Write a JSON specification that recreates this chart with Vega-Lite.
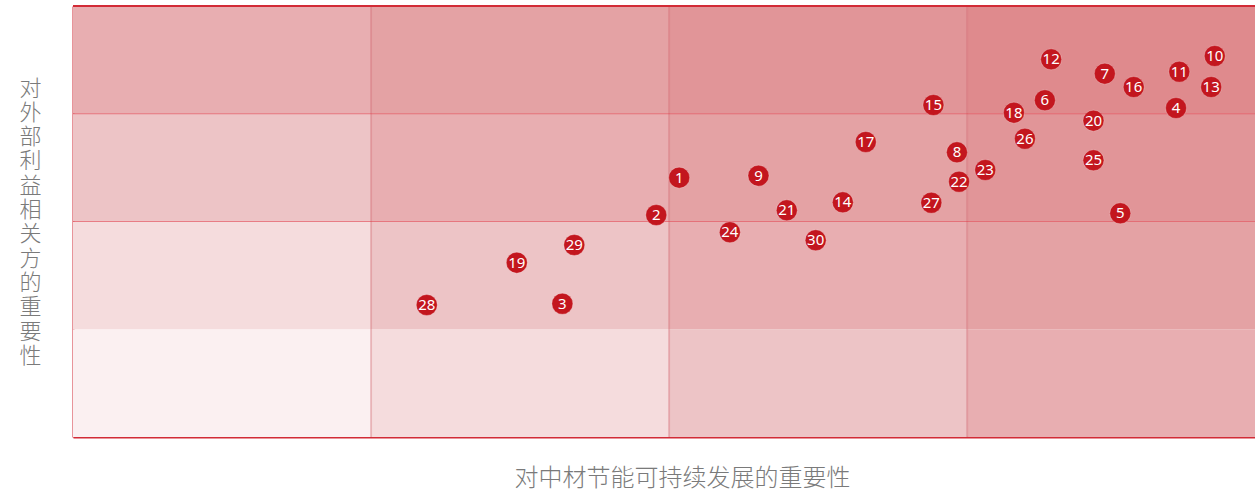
{
  "$schema": "https://vega.github.io/schema/vega-lite/v6.json",
  "autosize": {"type": "none"},
  "padding": {"left": 73, "top": 6, "right": 0, "bottom": 57},
  "width": 1182,
  "height": 431,
  "background": "white",
  "config": {
    "view": {"stroke": null},
    "axis": {
      "domainColor": "#d22b36",
      "domainWidth": 2,
      "ticks": false,
      "labels": false,
      "grid": false,
      "titleFont": "Noto Sans CJK SC",
      "titleFontWeight": 300,
      "titleFontSize": 24,
      "titleColor": "#7a7a7a"
    }
  },
  "datasets": {
    "cells": [
      {"c0": 0, "c1": 1, "r0": 0, "r1": 1, "lv": 0},
      {"c0": 1, "c1": 2, "r0": 0, "r1": 1, "lv": 1},
      {"c0": 2, "c1": 3, "r0": 0, "r1": 1, "lv": 2},
      {"c0": 3, "c1": 4, "r0": 0, "r1": 1, "lv": 3},
      {"c0": 0, "c1": 1, "r0": 1, "r1": 2, "lv": 1},
      {"c0": 1, "c1": 2, "r0": 1, "r1": 2, "lv": 2},
      {"c0": 2, "c1": 3, "r0": 1, "r1": 2, "lv": 3},
      {"c0": 3, "c1": 4, "r0": 1, "r1": 2, "lv": 4},
      {"c0": 0, "c1": 1, "r0": 2, "r1": 3, "lv": 2},
      {"c0": 1, "c1": 2, "r0": 2, "r1": 3, "lv": 3},
      {"c0": 2, "c1": 3, "r0": 2, "r1": 3, "lv": 4},
      {"c0": 3, "c1": 4, "r0": 2, "r1": 3, "lv": 5},
      {"c0": 0, "c1": 1, "r0": 3, "r1": 4, "lv": 3},
      {"c0": 1, "c1": 2, "r0": 3, "r1": 4, "lv": 4},
      {"c0": 2, "c1": 3, "r0": 3, "r1": 4, "lv": 5},
      {"c0": 3, "c1": 4, "r0": 3, "r1": 4, "lv": 6}
    ],
    "vlines": [{"v": 1}, {"v": 2}, {"v": 3}],
    "hlines": [{"v": 2}, {"v": 3}],
    "border": [{"v": 4}],
    "points": [
      {"id": "1", "x": 2.034, "y": 2.407},
      {"id": "2", "x": 1.957, "y": 2.060},
      {"id": "3", "x": 1.642, "y": 1.237},
      {"id": "4", "x": 3.701, "y": 3.053},
      {"id": "5", "x": 3.514, "y": 2.076},
      {"id": "6", "x": 3.261, "y": 3.125},
      {"id": "7", "x": 3.462, "y": 3.372},
      {"id": "8", "x": 2.966, "y": 2.642},
      {"id": "9", "x": 2.300, "y": 2.425},
      {"id": "10", "x": 3.831, "y": 3.536},
      {"id": "11", "x": 3.712, "y": 3.390},
      {"id": "12", "x": 3.282, "y": 3.505},
      {"id": "13", "x": 3.819, "y": 3.248},
      {"id": "14", "x": 2.583, "y": 2.178},
      {"id": "15", "x": 2.887, "y": 3.081},
      {"id": "16", "x": 3.559, "y": 3.248},
      {"id": "17", "x": 2.660, "y": 2.738},
      {"id": "18", "x": 3.157, "y": 3.010},
      {"id": "19", "x": 1.489, "y": 1.618},
      {"id": "20", "x": 3.424, "y": 2.936},
      {"id": "21", "x": 2.395, "y": 2.104},
      {"id": "22", "x": 2.973, "y": 2.369},
      {"id": "23", "x": 3.061, "y": 2.478},
      {"id": "24", "x": 2.204, "y": 1.900},
      {"id": "25", "x": 3.424, "y": 2.568},
      {"id": "26", "x": 3.194, "y": 2.768},
      {"id": "27", "x": 2.880, "y": 2.174},
      {"id": "28", "x": 1.187, "y": 1.225},
      {"id": "29", "x": 1.682, "y": 1.782},
      {"id": "30", "x": 2.492, "y": 1.826}
    ]
  },
  "layer": [
    {
      "data": {"name": "cells"},
      "mark": {"type": "rect", "clip": true},
      "encoding": {
        "x": {"field": "c0", "type": "quantitative", "scale": {"domain": [0, 3.966], "nice": false, "zero": false}},
        "x2": {"field": "c1"},
        "y": {"field": "r0", "type": "quantitative", "scale": {"domain": [0, 4], "nice": false, "zero": false}},
        "y2": {"field": "r1"},
        "color": {
          "field": "lv",
          "type": "ordinal",
          "scale": {"domain": [0, 1, 2, 3, 4, 5, 6], "range": ["#fbf0f1", "#f5dcdd", "#edc4c6", "#e8aeb1", "#e4a2a4", "#e19598", "#df8a8d"]},
          "legend": null
        }
      }
    },
    {
      "data": {"name": "vlines"},
      "mark": {"type": "rule", "color": "#d2636c", "strokeWidth": 2, "opacity": 0.35},
      "encoding": {
        "x": {"field": "v", "type": "quantitative"}
      }
    },
    {
      "data": {"name": "hlines"},
      "mark": {"type": "rule", "color": "#e0404b", "strokeWidth": 1, "opacity": 0.6},
      "encoding": {
        "y": {"field": "v", "type": "quantitative"}
      }
    },
    {
      "data": {"name": "border"},
      "mark": {"type": "rule", "color": "#d22b36", "strokeWidth": 2},
      "encoding": {
        "y": {"field": "v", "type": "quantitative"}
      }
    },
    {
      "data": {"name": "points"},
      "mark": {"type": "circle", "size": 440, "color": "#c3161e", "opacity": 1, "stroke": "#ffffff", "strokeOpacity": 0.25, "strokeWidth": 1},
      "encoding": {
        "x": {
          "field": "x",
          "type": "quantitative",
          "axis": {
            "title": "对中材节能可持续发展的重要性",
            "titleX": 609,
            "titleY": 41,
            "titleAlign": "center",
            "titleBaseline": "middle",
            "titleAnchor": "middle"
          }
        },
        "y": {
          "field": "y",
          "type": "quantitative",
          "axis": {
            "title": ["对", "外", "部", "利", "益", "相", "关", "方", "的", "重", "要", "性"],
            "titleAngle": 0,
            "titleX": -43,
            "titleY": 82,
            "titleFontSize": 22,
            "titleAlign": "center",
            "titleBaseline": "middle",
            "titleLineHeight": 24.3
          }
        }
      }
    },
    {
      "data": {"name": "points"},
      "mark": {"type": "text", "color": "#ffffff", "fontSize": 15, "font": "Noto Sans", "align": "center", "baseline": "middle"},
      "encoding": {
        "x": {"field": "x", "type": "quantitative"},
        "y": {"field": "y", "type": "quantitative"},
        "text": {"field": "id", "type": "nominal"}
      }
    }
  ]
}
